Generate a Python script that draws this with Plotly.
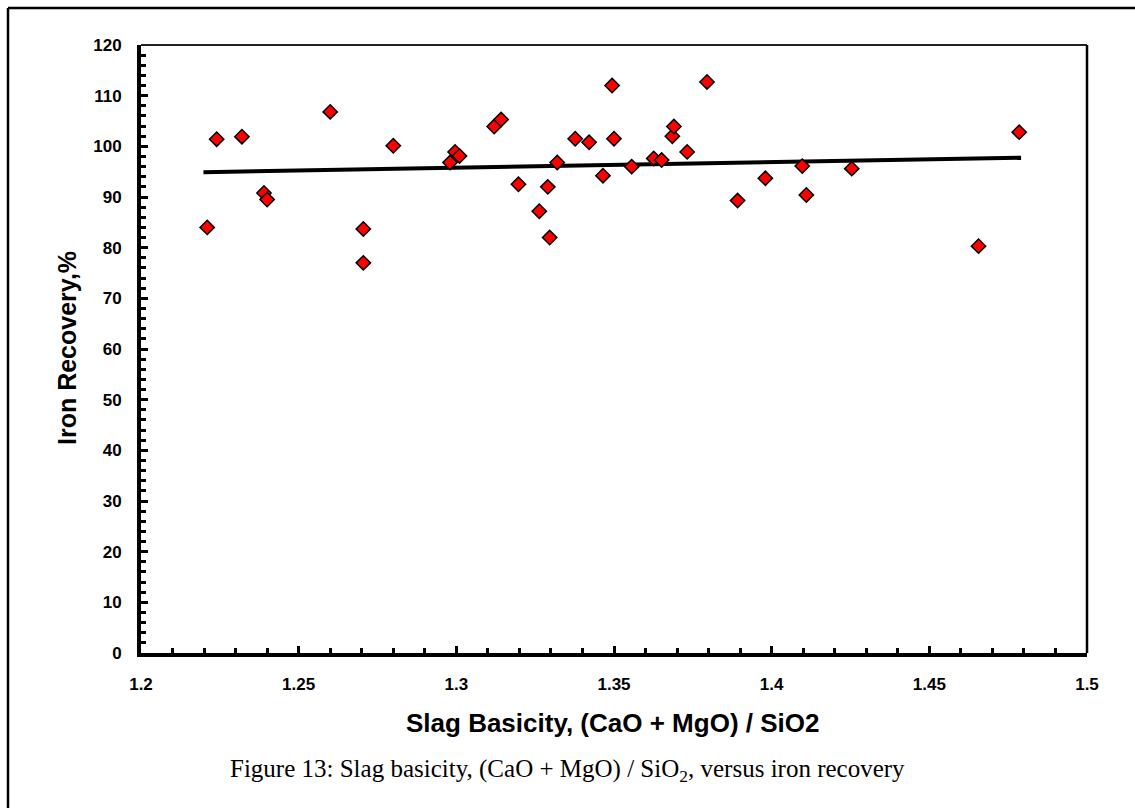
import plotly.graph_objects as go

# Data
basicity = [1.221, 1.224, 1.232, 1.239, 1.240, 1.260, 1.2705, 1.2705, 1.280, 1.298,
            1.2996, 1.301, 1.312, 1.3142, 1.3197, 1.3263, 1.329, 1.3296, 1.332, 1.3377,
            1.3421, 1.3465, 1.3494, 1.350, 1.3556, 1.3626, 1.3651, 1.3685, 1.369, 1.3732,
            1.3795, 1.3892, 1.398, 1.4097, 1.411, 1.4254, 1.4656, 1.4785]
recovery = [84.0, 101.4, 101.9, 90.8, 89.5, 106.8, 83.7, 77.0, 100.1, 96.8,
            98.9, 98.1, 103.9, 105.3, 92.5, 87.2, 92.0, 82.0, 96.8, 101.5,
            100.8, 94.2, 112.0, 101.5, 96.0, 97.6, 97.3, 102.0, 103.9, 98.9,
            112.7, 89.3, 93.7, 96.1, 90.4, 95.6, 80.3, 102.8]

trend_x = [1.2198, 1.4791]
trend_y = [94.9, 97.75]

x_ticks = [1.2, 1.25, 1.3, 1.35, 1.4, 1.45, 1.5]
x_tick_labels = ["1.2", "1.25", "1.3", "1.35", "1.4", "1.45", "1.5"]
y_ticks = list(range(0, 121, 10))

x_title = "Slag Basicity, (CaO + MgO) / SiO2"
y_title = "Iron Recovery,%"
caption = "Figure 13: Slag basicity, (CaO + MgO) / SiO<sub>2</sub>, versus iron recovery"

W, H = 1135, 808
L, R, T, B = 141, 1087, 45, 653

fig = go.Figure()
fig.add_trace(go.Scatter(
    x=trend_x, y=trend_y, mode="lines",
    line=dict(color="black", width=4), showlegend=False, hoverinfo="skip"))
fig.add_trace(go.Scatter(
    x=basicity, y=recovery, mode="markers",
    marker=dict(symbol="diamond", size=11, color="#FF0000",
                line=dict(color="black", width=1.5)),
    showlegend=False))

xtickfont = dict(family="Liberation Sans", size=17, color="black", weight="bold")
ytickfont = dict(family="Liberation Sans", size=17, color="black", weight="bold")

fig.update_xaxes(
    range=[1.2, 1.5], tickvals=x_ticks, ticktext=x_tick_labels,
    ticks="inside", ticklen=7, tickwidth=3, tickcolor="black",
    minor=dict(dtick=0.01, ticks="inside", ticklen=5, tickwidth=3, tickcolor="black"),
    showline=True, linecolor="black", linewidth=4,
    showgrid=False, zeroline=False, tickfont=xtickfont, ticklabelstandoff=13)
fig.update_yaxes(
    range=[0, 120], tickvals=y_ticks,
    ticks="inside", ticklen=7, tickwidth=3, tickcolor="black",
    minor=dict(dtick=2, ticks="inside", ticklen=5, tickwidth=3, tickcolor="black"),
    showline=True, linecolor="black", linewidth=4,
    showgrid=False, zeroline=False, tickfont=ytickfont, ticklabelstandoff=12)

pw, ph = R - L, B - T
def px(x):
    return (x - L) / pw
def py(y):
    return (B - y) / ph

shapes = [
    # plot frame top and right
    dict(type="line", xref="paper", yref="paper", x0=0, y0=1, x1=1, y1=1,
         line=dict(color="#222222", width=2)),
    dict(type="line", xref="paper", yref="paper", x0=1, y0=0, x1=1, y1=1,
         line=dict(color="black", width=2.5)),
    # outer figure border (left and top)
    dict(type="line", xref="paper", yref="paper", x0=px(8), y0=py(8), x1=px(1140), y1=py(8),
         line=dict(color="black", width=2.5)),
    dict(type="line", xref="paper", yref="paper", x0=px(8), y0=py(8), x1=px(8), y1=py(812),
         line=dict(color="black", width=2.5)),
]

annotations = [
    dict(text="<b>" + x_title + "</b>", xref="paper", yref="paper",
         x=px(612), y=py(723), xanchor="center", yanchor="middle", showarrow=False,
         font=dict(family="Liberation Sans", size=26, color="black")),
    dict(text="<b>" + y_title + "</b>", xref="paper", yref="paper",
         x=px(67), y=py(348), xanchor="center", yanchor="middle", showarrow=False,
         textangle=-90,
         font=dict(family="Liberation Sans", size=25, color="black")),
    dict(text=caption, xref="paper", yref="paper",
         x=px(567), y=py(770), xanchor="center", yanchor="middle", showarrow=False,
         font=dict(family="Liberation Serif", size=25, color="black")),
]

fig.update_layout(
    width=W, height=H,
    margin=dict(l=L, r=W - R, t=T, b=H - B),
    paper_bgcolor="white", plot_bgcolor="white",
    shapes=shapes, annotations=annotations,
    showlegend=False)

fig.write_html("out.html")
